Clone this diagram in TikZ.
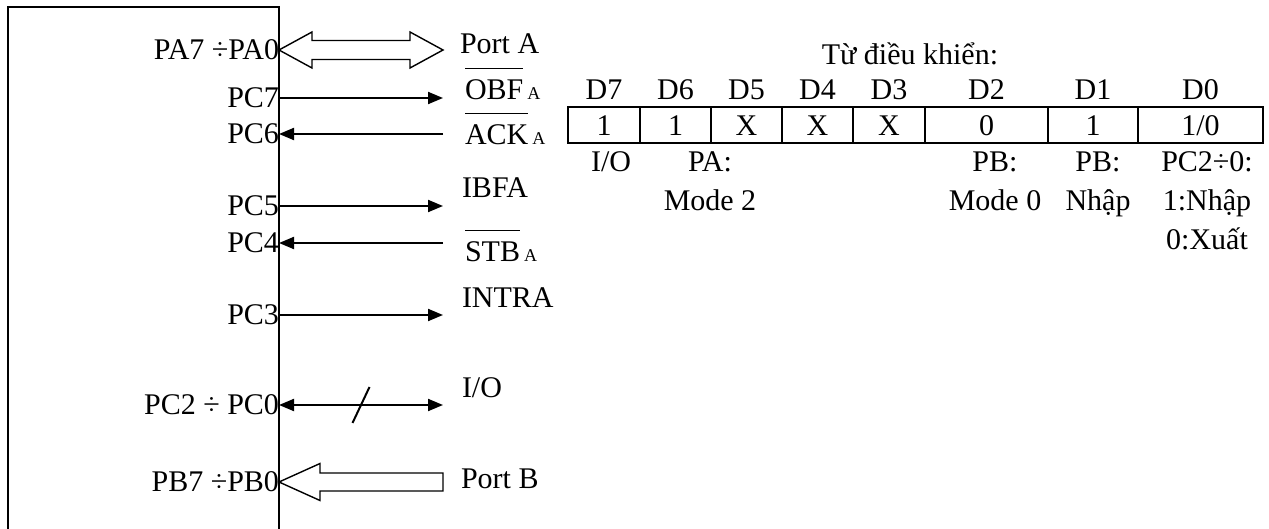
\documentclass[tikz,border=0pt]{standalone}
\usepackage{fontspec}
\setmainfont{Liberation Serif}
\usepackage{tikz}
\usetikzlibrary{arrows.meta,positioning,calc}
\tikzset{font=\fontsize{15}{19.5}\selectfont}
\tikzstyle{cell}=[draw,rectangle,inner sep=0pt,outer sep=0pt,minimum height=18pt]
\tikzstyle{lbl}=[inner sep=0pt,outer sep=0pt]
\tikzstyle{hollow}=[line width=0.7pt,line join=miter]
\newcommand{\sigbar}[1]{\setbox0\hbox{#1}\rlap{\rule[1.04em]{\wd0}{0.5pt}}\box0}
\newcommand{\idx}[1]{\kern2pt{\fontsize{9}{10}\selectfont #1}}

\begin{document}
\begin{tikzpicture}[x=0.5pt,y=-0.5pt,line width=1pt,>={Triangle[length=7.5pt,width=6pt]}]
\useasboundingbox (0,0) rectangle (1269,529);
% chip outline
\coordinate (bl) at (8,529);
\coordinate (tl) at (8,7);
\coordinate (tr) at (279,7);
\coordinate (br) at (279,529);
\draw (bl) -- (tl) -- (tr) -- (br);
% pin names
\node[lbl,anchor=east] (PA) at (279,50) {PA7 ÷PA0};
\node[lbl,anchor=east] (PC7) at (279,98) {PC7};
\node[lbl,anchor=east] (PC6) at (279,134) {PC6};
\node[lbl,anchor=east] (PC5) at (279,206) {PC5};
\node[lbl,anchor=east] (PC4) at (279,243) {PC4};
\node[lbl,anchor=east] (PC3) at (279,315) {PC3};
\node[lbl,anchor=east] (PC2) at (279,405) {PC2 ÷ PC0};
\node[lbl,anchor=east] (PB) at (279,482) {PB7 ÷PB0};
% free ends of the lines
\coordinate (pa) at (443,50);
\coordinate (pc7r) at (443,98);
\coordinate (pc6r) at (443,134);
\coordinate (pc5r) at (443,206);
\coordinate (pc4r) at (443,243);
\coordinate (pc3r) at (443,315);
\coordinate (pc2r) at (443,405);
% signal names
\node[lbl,anchor=base west] (portA) at (460,54) {Port A};
\node[lbl,anchor=base west] (obf) at (465,100) {\sigbar{OBF}\idx{A}};
\node[lbl,anchor=base west] (ack) at (465,145) {\sigbar{ACK}\idx{A}};
\node[lbl,anchor=base west] (ibf) at (462,198) {IBFA};
\node[lbl,anchor=base west] (stb) at (465,262) {\sigbar{STB}\idx{A}};
\node[lbl,anchor=base west] (intr) at (462,307) {INTRA};
\node[lbl,anchor=base west] (io) at (462,397) {I/O};
\node[lbl,anchor=base west] (portB) at (461,488) {Port B};
\path[->]
(PC7.east) edge (pc7r)
(pc6r) edge (PC6.east)
(PC5.east) edge (pc5r)
(pc4r) edge (PC4.east)
(PC3.east) edge (pc3r)
(PC2.east) edge[<->] (pc2r);
\draw ($(PC2.east)!.5!(pc2r)$) ++(-8.5,18) -- ++(17,-36);
% bus arrows
\draw[hollow] (PA.east) -- ++(33,-18) -- ++(0,8.5) -- ++(98,0) -- ++(0,-8.5) -- (pa)
  -- ++(-33,18) -- ++(0,-8.5) -- ++(-98,0) -- ++(0,8.5) -- cycle;
\draw[hollow] (PB.east) -- ++(41,-18.5) -- ++(0,9.5) -- ++(123,0) -- ++(0,18)
  -- ++(-123,0) -- ++(0,9.5) -- cycle;
% control word
\node[lbl,anchor=base] (title) at (910,65) {Từ điều khiển:};
\node[cell,minimum width=36pt,anchor=west] (c7) at (568,125.5) {1};
\node[cell,minimum width=35.5pt,right=0pt of c7] (c6) {1};
\node[cell,minimum width=35.5pt,right=0pt of c6] (c5) {X};
\node[cell,minimum width=35.5pt,right=0pt of c5] (c4) {X};
\node[cell,minimum width=36pt,right=0pt of c4] (c3) {X};
\node[cell,minimum width=61.5pt,right=0pt of c3] (c2) {0};
\node[cell,minimum width=45pt,right=0pt of c2] (c1) {1};
\node[cell,minimum width=62.5pt,right=0pt of c1] (c0) {1/0};
\node[lbl,above=3.75pt of c7] (d7) {D7};
\node[lbl,above=3.75pt of c6] (d6) {D6};
\node[lbl,above=3.75pt of c5] (d5) {D5};
\node[lbl,above=3.75pt of c4] (d4) {D4};
\node[lbl,above=3.75pt of c3] (d3) {D3};
\node[lbl,above=3.75pt of c2] (d2) {D2};
\node[lbl,above=3.75pt of c1] (d1) {D1};
\node[lbl,above=3.75pt of c0] (d0) {D0};
\node[lbl,anchor=north,align=center] (rw) at (611,152) {I/O};
\node[lbl,anchor=north,align=center] (pam) at (710,152) {PA:\\Mode 2};
\node[lbl,anchor=north,align=center] (pbm) at (995,152) {PB:\\Mode 0};
\node[lbl,anchor=north,align=center] (pbd) at (1098,152) {PB:\\Nhập};
\node[lbl,anchor=north,align=center] (pcd) at (1207,152) {PC2÷0:\\1:Nhập\\0:Xuất};
\end{tikzpicture}
\end{document}
